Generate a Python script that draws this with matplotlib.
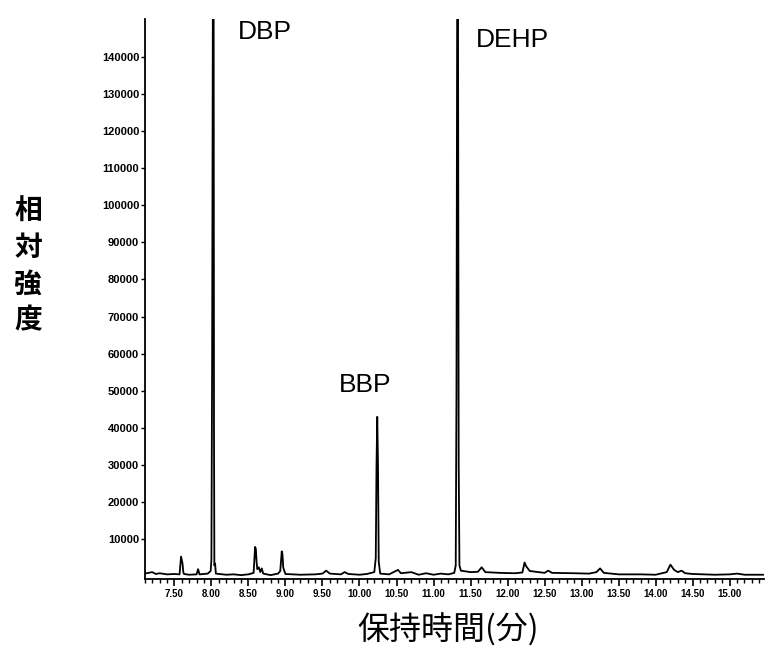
import matplotlib
matplotlib.use('Agg')
import matplotlib.pyplot as plt
from matplotlib.ticker import MultipleLocator, FixedLocator

plt.rcParams['font.family'] = ['Noto Sans CJK JP', 'DejaVu Sans']

# 保持時間 (分) と強度 -- 図から読み取ったトレース
times = [7.10, 7.20, 7.25, 7.30, 7.40, 7.50, 7.57, 7.59, 7.61, 7.62, 7.63, 7.70,
         7.80, 7.82, 7.84, 7.95, 7.99, 8.00, 8.01, 8.02, 8.03, 8.035, 8.04, 8.05,
         8.06, 8.20, 8.30, 8.40, 8.50, 8.57, 8.59, 8.60, 8.61, 8.62, 8.64, 8.66,
         8.68, 8.70, 8.80, 8.90, 8.93, 8.95, 8.96, 8.97, 8.98, 9.00, 9.20, 9.40,
         9.50, 9.55, 9.60, 9.75, 9.80, 9.85, 10.00, 10.10, 10.20, 10.22, 10.23,
         10.24, 10.25, 10.26, 10.28, 10.40, 10.48, 10.52, 10.56, 10.70, 10.80,
         10.90, 11.00, 11.10, 11.20, 11.28, 11.30, 11.31, 11.32, 11.33, 11.34,
         11.35, 11.37, 11.50, 11.60, 11.65, 11.70, 11.90, 12.10, 12.20, 12.23,
         12.25, 12.30, 12.50, 12.55, 12.60, 12.90, 13.10, 13.20, 13.25, 13.30,
         13.50, 13.80, 14.00, 14.15, 14.20, 14.25, 14.30, 14.35, 14.40, 14.50,
         14.80, 15.00, 15.10, 15.20, 15.45]
intensity = [800, 1200, 700, 900, 600, 700, 600, 5400, 3500, 1200, 700, 500,
             600, 2000, 600, 800, 1500, 4500, 60000, 160000, 160000, 40000, 3000, 3500,
             800, 500, 600, 400, 600, 1000, 8000, 7500, 4000, 2000, 2500, 1200,
             2200, 800, 400, 800, 1500, 6800, 6000, 2500, 1800, 700, 500, 600,
             800, 1600, 800, 600, 1200, 700, 500, 700, 1200, 5000, 30000,
             43000, 30000, 4000, 800, 600, 1400, 1800, 900, 1200, 500,
             900, 500, 800, 600, 1000, 3000, 50000, 160000, 160000, 30000,
             3000, 1600, 1200, 1300, 2500, 1200, 1000, 900, 1100, 3800,
             2800, 1500, 1000, 1600, 1000, 900, 800, 1200, 2200, 1000,
             600, 600, 500, 1200, 3200, 1800, 1200, 1600, 900, 700,
             500, 600, 800, 500, 500]

peak_names = ['DBP', 'BBP', 'DEHP']
peak_label_pos = [(8.72, 146500), (10.08, 51500), (12.06, 144500)]

x_major = [7.5 + 0.5 * i for i in range(16)]
x_labels = ['%.2f' % v for v in x_major]
y_major = [10000 * i for i in range(1, 15)]

fig = plt.figure(figsize=(7.66, 6.46), dpi=100)
ax = fig.add_axes([0.189, 0.104, 0.809, 0.866])

ax.plot(times, intensity, color='black', lw=1.3)

for name, (tx, ty) in zip(peak_names, peak_label_pos):
    ax.text(tx, ty, name, fontsize=19, family='Liberation Sans',
            ha='center', va='center')

ax.set_xlim(7.1, 15.47)
ax.set_ylim(-600, 150000)

ax.xaxis.set_major_locator(FixedLocator(x_major))
ax.xaxis.set_minor_locator(MultipleLocator(0.1))
ax.set_xticklabels(x_labels, fontsize=7, fontweight='bold', family='Liberation Sans')
ax.yaxis.set_major_locator(FixedLocator(y_major))
ax.set_yticklabels([str(v) for v in y_major], fontsize=8, fontweight='bold',
                   family='Liberation Sans')

ax.tick_params(axis='x', which='major', direction='out', length=5, width=1.2, pad=2)
ax.tick_params(axis='x', which='minor', direction='out', length=3, width=1)
ax.tick_params(axis='y', which='major', direction='out', length=3, width=1, pad=1)

for s in ['top', 'right']:
    ax.spines[s].set_visible(False)
ax.spines['left'].set_linewidth(1.3)
ax.spines['bottom'].set_linewidth(1.3)

fig.text(0.037, 0.588, '相\n対\n強\n度', fontsize=20, fontweight='bold',
         ha='center', va='center', linespacing=1.38)
fig.text(0.585, 0.025, '保持時間(分)', fontsize=23, ha='center', va='center')

fig.savefig('out.png', dpi=100)
